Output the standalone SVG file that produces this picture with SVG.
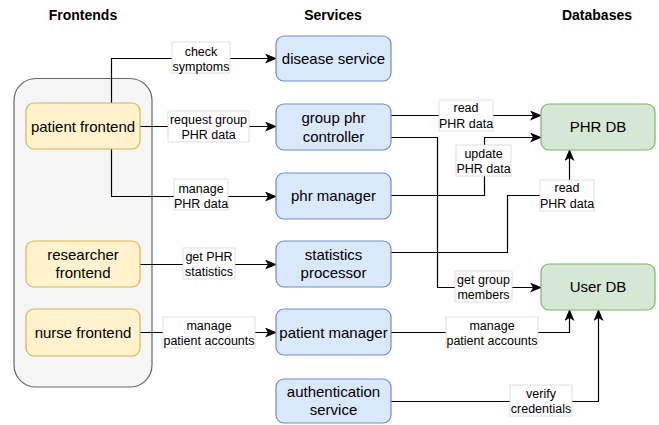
<svg xmlns="http://www.w3.org/2000/svg" width="659" height="425" viewBox="0 0 659 425">
<style>
text{font-family:"Liberation Sans",Arial,Helvetica,sans-serif;fill:#000}
.h{font-size:14px;font-weight:bold;text-anchor:middle}
.n{font-size:15px;text-anchor:middle}
.l{font-size:12.5px;text-anchor:middle}
.fe{fill:#fff2cc;stroke:#d6b656;stroke-width:1.2}
.sv{fill:#dae8fc;stroke:#6c8ebf;stroke-width:1.2}
.db{fill:#d5e8d4;stroke:#82b366;stroke-width:1.2}
.lb{fill:#fff;stroke:#d8d8d8;stroke-width:0.8}
.c{fill:none;stroke:#000;stroke-width:1.2;marker-end:url(#arr)}
</style>
<defs>
<marker id="arr" viewBox="0 0 12 10" refX="11" refY="5" markerWidth="12" markerHeight="10" markerUnits="userSpaceOnUse" orient="auto">
<path d="M0 0 L12 5 L0 10 L3 5 Z" fill="#000"/>
</marker>
</defs>
<rect width="659" height="425" fill="#fff"/>
<text class="h" x="83" y="20">Frontends</text>
<text class="h" x="333" y="20">Services</text>
<text class="h" x="597" y="20">Databases</text>
<g id="frontends-group"><rect x="14" y="78.5" width="138" height="308.5" rx="22" fill="#f5f5f5" stroke="#666" stroke-width="1.2"/></g>
<g id="connectors">
<path class="c" d="M111.5 103 V58.5 H276"/>
<path class="c" d="M140 126.5 H276"/>
<path class="c" d="M111.5 149 V196.5 H276"/>
<path class="c" d="M140 264.5 H276"/>
<path class="c" d="M140 332.5 H276"/>
<path class="c" d="M391 115.5 H541"/>
<path class="c" d="M391 137.5 H437.5 V287.5 H541"/>
<path class="c" d="M391 195.5 H484.5 V137.5 H541"/>
<path class="c" d="M391 252.5 H507.5 V195.5 H569.5 V150"/>
<path class="c" d="M391 332.5 H569.5 V310"/>
<path class="c" d="M391 401.5 H598.5 V310"/>
<rect class="lb" x="172" y="42" width="58" height="31"/>
<text class="l" x="201" y="55.5">check</text><text class="l" x="201" y="70.5">symptoms</text>
<rect class="lb" x="168" y="111" width="81" height="31"/>
<text class="l" x="208.5" y="123.5">request group</text><text class="l" x="208.5" y="139">PHR data</text>
<rect class="lb" x="174" y="179" width="54" height="31"/>
<text class="l" x="201" y="192.5">manage</text><text class="l" x="201" y="207.5">PHR data</text>
<rect class="lb" x="183" y="248" width="52" height="31"/>
<text class="l" x="209" y="260.5">get PHR</text><text class="l" x="209" y="276">statistics</text>
<rect class="lb" x="163" y="317" width="92" height="31"/>
<text class="l" x="209" y="329.5">manage</text><text class="l" x="209" y="345">patient accounts</text>
<rect class="lb" x="439" y="100" width="54" height="31"/>
<text class="l" x="466" y="112">read</text><text class="l" x="466" y="127.5">PHR data</text>
<rect class="lb" x="456" y="145" width="55" height="31"/>
<text class="l" x="483.5" y="157.5">update</text><text class="l" x="483.5" y="173">PHR data</text>
<rect class="lb" x="540" y="180" width="54" height="31"/>
<text class="l" x="567" y="192">read</text><text class="l" x="567" y="207.5">PHR data</text>
<rect class="lb" x="455" y="271" width="57" height="31"/>
<text class="l" x="483.5" y="283.5">get group</text><text class="l" x="483.5" y="299">members</text>
<rect class="lb" x="446" y="317" width="92" height="31"/>
<text class="l" x="492" y="329.5">manage</text><text class="l" x="492" y="345">patient accounts</text>
<rect class="lb" x="510" y="385" width="62" height="31"/>
<text class="l" x="541" y="397.5">verify</text><text class="l" x="541" y="413">credentials</text>
</g>
<g id="patient-frontend"><rect class="fe" x="26" y="103" width="114" height="46" rx="8"/><text class="n" x="83" y="131.5">patient frontend</text></g>
<g id="researcher-frontend"><rect class="fe" x="26" y="241" width="114" height="46" rx="8"/><text class="n" x="83" y="260">researcher</text><text class="n" x="83" y="278">frontend</text></g>
<g id="nurse-frontend"><rect class="fe" x="26" y="309" width="114" height="47" rx="8"/><text class="n" x="83" y="337.5">nurse frontend</text></g>
<g id="disease-service"><rect class="sv" x="276" y="36" width="115" height="45" rx="8"/><text class="n" x="333.5" y="64">disease service</text></g>
<g id="group-phr-controller"><rect class="sv" x="276" y="104" width="115" height="46" rx="8"/><text class="n" x="333.5" y="123">group phr</text><text class="n" x="333.5" y="142">controller</text></g>
<g id="phr-manager"><rect class="sv" x="276" y="173" width="115" height="46" rx="8"/><text class="n" x="333.5" y="201">phr manager</text></g>
<g id="statistics-processor"><rect class="sv" x="276" y="241" width="115" height="46" rx="8"/><text class="n" x="333.5" y="260">statistics</text><text class="n" x="333.5" y="278">processor</text></g>
<g id="patient-manager"><rect class="sv" x="276" y="309" width="115" height="46" rx="8"/><text class="n" x="333.5" y="337.5">patient manager</text></g>
<g id="authentication-service"><rect class="sv" x="276" y="379" width="115" height="44" rx="8"/><text class="n" x="333.5" y="397">authentication</text><text class="n" x="333.5" y="415">service</text></g>
<g id="phr-db"><rect class="db" x="541" y="104" width="114" height="46" rx="8"/><text class="n" x="598" y="132">PHR DB</text></g>
<g id="user-db"><rect class="db" x="541" y="264" width="114" height="46" rx="8"/><text class="n" x="598" y="292">User DB</text></g>
</svg>
